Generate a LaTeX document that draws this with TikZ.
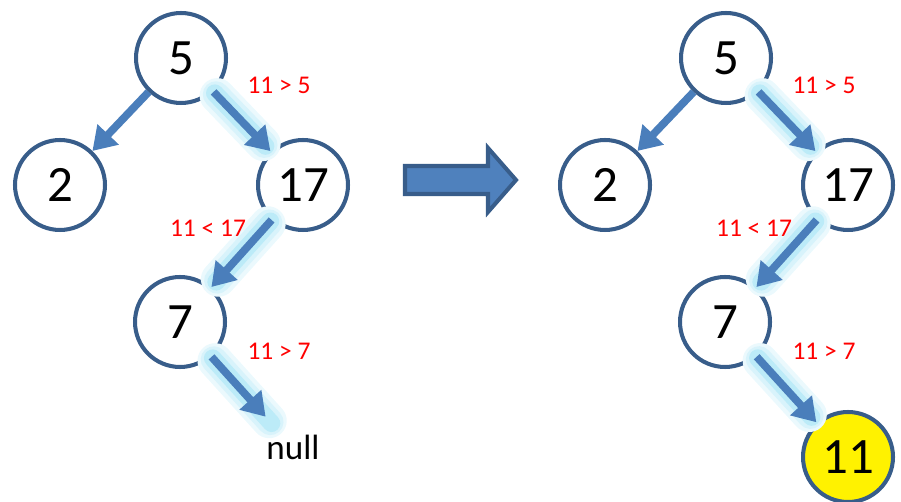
\documentclass[tikz,border=0pt]{standalone}
\usepackage{fontspec}
\setmainfont{Carlito}
\usetikzlibrary{arrows.meta}
\definecolor{nodeline}{HTML}{385D8A}
\definecolor{linkblue}{HTML}{4A7EBB}
\definecolor{glowcyan}{HTML}{8FDDF3}
\definecolor{bigfill}{HTML}{4F81BD}
\definecolor{cmpred}{HTML}{FF0000}
\tikzset{
  bstnode/.style={circle, draw=nodeline, line width=2.3pt, fill=white,
    minimum size=1.8cm, inner sep=0pt, font=\fontsize{29}{32}\selectfont},
  newnode/.style={bstnode, fill=yellow},
  link/.style={draw=linkblue, line width=4.4pt,
    -{Triangle[length=13pt, width=16pt]}},
  glow/.style={
    preaction={draw=glowcyan!18, line width=20pt, line cap=round,
      shorten <=3pt, shorten >=6pt, -},
    preaction={draw=glowcyan!35, line width=15pt, line cap=round,
      shorten <=2pt, shorten >=5pt, -},
    preaction={draw=glowcyan!60, line width=10pt, line cap=round,
      shorten <=1pt, shorten >=4pt, -}},
  cmp/.style={text=cmpred, font=\fontsize{14.5}{16}\selectfont}
}
\begin{document}
\begin{tikzpicture}[x=0.02cm, y=-0.02cm]
\useasboundingbox (0,0) rectangle (901,502);

% Baum vorher
\node[bstnode] (a5) at (181,58) {5};
\node[bstnode] (a2) at (60,185) {2};
\node[bstnode] (a17) at (303,185) {17};
\node[bstnode] (a7) at (180,322) {7};
\node[font=\fontsize{20}{22}\selectfont] (anull) at (293,447) {null};

\draw[link] (a5) -- (a2);
\draw[link, glow] (a5) -- (a17);
\draw[link, glow] (a17) -- (a7);
\draw[link, glow, shorten >=9pt] (a7) -- (anull);

\node[cmp] (ac1) at (279,85) {11 > 5};
\node[cmp] (ac2) at (208,228) {11 < 17};
\node[cmp] (ac3) at (279,351) {11 > 7};

% Pfeil
\draw[draw=nodeline, fill=bigfill, line width=2.3pt, line join=miter]
  (405,166) -- (488,166) -- (488,148) -- (516,180) -- (488,212)
  -- (488,194) -- (405,194) -- cycle;

% Baum nachher
\node[bstnode] (b5) at (726,58) {5};
\node[bstnode] (b2) at (605,185) {2};
\node[bstnode] (b17) at (848,185) {17};
\node[bstnode] (b7) at (725,322) {7};
\node[newnode] (b11) at (848,457) {11};

\draw[link] (b5) -- (b2);
\draw[link, glow] (b5) -- (b17);
\draw[link, glow] (b17) -- (b7);
\draw[link, glow] (b7) -- (b11);

\node[cmp] (bc1) at (824,85) {11 > 5};
\node[cmp] (bc2) at (754,228) {11 < 17};
\node[cmp] (bc3) at (824,351) {11 > 7};
\end{tikzpicture}
\end{document}
